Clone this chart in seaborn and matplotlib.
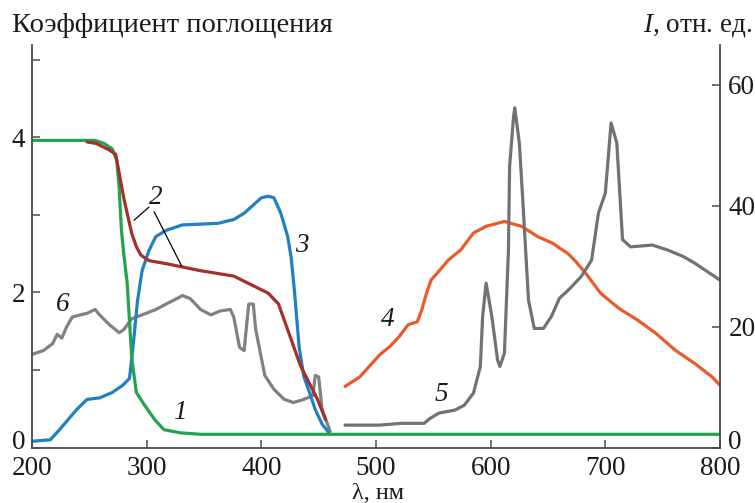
import matplotlib
matplotlib.use("Agg")
import matplotlib.pyplot as plt
import matplotlib.transforms as mtransforms
import seaborn as sns
import numpy as np

# ---- data (nm, absorption coefficient / relative intensity) ----
x1 = [200, 230, 255, 263, 270, 274, 276, 278, 280, 283, 287, 291, 298, 307, 315, 329, 347, 400, 500, 600, 700, 800]
y1 = [3.96, 3.96, 3.96, 3.92, 3.85, 3.7, 3.35, 2.8, 2.5, 2.12, 1.15, 0.71, 0.55, 0.36, 0.23, 0.19, 0.17, 0.17, 0.17, 0.17, 0.17, 0.17]

x2 = [248, 256, 267, 273, 276, 280, 283, 287, 291, 295, 302, 317, 347, 376, 406, 415, 434, 449, 456]
y2 = [3.94, 3.92, 3.84, 3.78, 3.54, 3.22, 3.02, 2.76, 2.59, 2.48, 2.41, 2.37, 2.28, 2.21, 1.99, 1.85, 1.06, 0.62, 0.36]

x3 = [200, 216, 224, 239, 248, 259, 270, 279, 285, 287, 289, 292, 296, 302, 308, 317, 331, 362, 376, 385,
      394, 400, 406, 411, 417, 423, 426, 429, 433, 437, 442, 447, 453, 459]
y3 = [0.08, 0.1, 0.23, 0.49, 0.62, 0.64, 0.71, 0.8, 0.89, 1.15, 1.43, 1.89, 2.28, 2.54, 2.72, 2.8, 2.87, 2.89, 2.94, 3.02,
      3.14, 3.22, 3.24, 3.22, 3.02, 2.72, 2.45, 2.0, 1.29, 0.92, 0.71, 0.49, 0.3, 0.19]

x6 = [200, 210, 218, 222, 226, 230, 235, 242, 248, 255, 259, 267, 276, 280, 287, 296, 308, 317, 329, 331,
      338, 347, 356, 364, 373, 376, 381, 385, 389, 393, 395, 403, 411, 420, 428, 437, 445, 447, 450, 453, 460]
y6 = [1.2, 1.25, 1.34, 1.46, 1.41, 1.55, 1.68, 1.71, 1.73, 1.78, 1.71, 1.59, 1.48, 1.52, 1.66, 1.71, 1.78, 1.85, 1.94, 1.96,
      1.92, 1.78, 1.71, 1.76, 1.78, 1.68, 1.29, 1.25, 1.85, 1.85, 1.53, 0.93, 0.75, 0.62, 0.58, 0.62, 0.67, 0.93, 0.91, 0.49, 0.21]

x4 = [473, 486, 503, 512, 520, 528, 536, 540, 544, 548, 555, 563, 574, 585, 596, 612, 627, 641, 654, 668,
      675, 683, 696, 712, 728, 744, 761, 778, 793, 800]
y4 = [10.1, 11.7, 15.3, 16.7, 18.3, 20.3, 20.8, 22.8, 25.5, 27.7, 29.2, 31.0, 32.7, 35.5, 36.6, 37.4, 36.6, 34.9, 33.8, 32.0,
      30.6, 28.8, 25.5, 23.0, 21.1, 18.9, 16.1, 13.9, 11.7, 10.3]

x5 = [473, 503, 522, 542, 547, 555, 569, 577, 585, 591, 593, 596, 601, 606, 608, 612, 615.5, 616.5, 620, 621,
      625, 628, 631, 633, 638, 646, 653, 660, 668, 679, 688, 694, 700, 705, 710, 715, 722, 741, 754, 768, 778, 800]
y5 = [3.7, 3.7, 4.0, 4.0, 4.8, 5.7, 6.2, 7.0, 9.0, 13.4, 21.7, 27.2, 21.7, 14.5, 13.4, 15.6, 32.7, 46.5, 54.8, 56.2,
      50.4, 41.0, 31.0, 24.4, 19.7, 19.7, 21.7, 24.7, 26.1, 28.3, 31.0, 38.8, 42.1, 53.7, 50.4, 34.4, 33.2, 33.5, 32.7, 31.6, 30.5, 27.7]

xticks = [200, 300, 400, 500, 600, 700, 800]
left_ticks = [0, 1, 2, 3, 4, 5]
left_labels = ["0", "", "2", "", "4", ""]
right_ticks = [0, 20, 40, 60]

# ---- style ----
sns.set_style("ticks")
plt.rcParams["font.family"] = ["Liberation Serif", "DejaVu Serif"]
plt.rcParams["mathtext.fontset"] = "custom"
plt.rcParams["mathtext.it"] = "Liberation Serif:italic"
plt.rcParams["mathtext.rm"] = "Liberation Serif"

FS = 19.5
spine_c = "#4a4a4a"
txt_c = "#1a1a1a"

fig = plt.figure(figsize=(7.55, 5.03), dpi=100)
ax = fig.add_axes([32 / 755, 55.5 / 503, (720 - 32) / 755, (447.5 - 45) / 503])
ax2 = ax.twinx()

lw = 2.3
c_green = "#26a24f"
c_red = "#a3302b"
c_blue = "#1f80c2"
c_orange = "#ea5a2a"
c_gray5 = "#6f7376"
c_gray6 = "#818181"

kw = dict(estimator=None, sort=False, legend=False)
sns.lineplot(x=x6, y=y6, ax=ax, color=c_gray6, lw=lw, **kw)
sns.lineplot(x=x3, y=y3, ax=ax, color=c_blue, lw=lw, **kw)
sns.lineplot(x=x1, y=y1, ax=ax, color=c_green, lw=lw, **kw)
sns.lineplot(x=x2, y=y2, ax=ax, color=c_red, lw=lw, **kw)
sns.lineplot(x=x4, y=y4, ax=ax2, color=c_orange, lw=lw, **kw)
sns.lineplot(x=x5, y=y5, ax=ax2, color=c_gray5, lw=lw, **kw)

ax.set_xlim(200, 800)
ax.set_ylim(0, 5.19)
ax2.set_ylim(0, 66.6)

ax.set_xticks(xticks)
ax.set_xticklabels([str(t) for t in xticks], fontsize=FS)
ax.set_yticks(left_ticks)
ax.set_yticklabels(left_labels, fontsize=FS)
ax2.set_yticks(right_ticks)
ax2.set_yticklabels([str(t) for t in right_ticks], fontsize=FS)
ax.set_xlabel("")
ax.set_ylabel("")
ax2.set_ylabel("")

for a in (ax, ax2):
    a.spines["top"].set_visible(False)
    for s in ("left", "right", "bottom"):
        a.spines[s].set_color(spine_c)
        a.spines[s].set_linewidth(1.3)
    a.tick_params(direction="in", length=6, width=1.1, color=spine_c, labelcolor=txt_c)
ax.spines["right"].set_visible(False)
ax2.spines["left"].set_visible(False)
ax2.spines["bottom"].set_visible(False)
ax.tick_params(axis="x", pad=6)
ax.tick_params(axis="y", pad=5)
ax2.tick_params(axis="y", pad=6)

# nudge the two "0" labels up a little, as in the reference
up = mtransforms.ScaledTranslation(0, 5.5 / 72, fig.dpi_scale_trans)
for lbl in (ax.get_yticklabels()[0], ax2.get_yticklabels()[0]):
    lbl.set_transform(lbl.get_transform() + up)

# curve numbers
lab = dict(fontsize=FS, style="italic", color=txt_c, ha="center", va="center")
ax.text(329, 0.45, "1", **lab)
ax.text(308, 3.22, "2", **lab)
ax.text(435, 2.6, "3", **lab)
ax2.text(510, 21.1, "4", **lab)
ax2.text(557, 8.7, "5", **lab)
ax.text(227, 1.85, "6", **lab)
ax.plot([302, 289], [3.10, 2.93], color="black", lw=0.9)
ax.plot([306.5, 330.5], [3.04, 2.34], color="black", lw=0.9)

# axis titles
fig.text(12 / 755, 1 - 31.7 / 503, "Коэффициент поглощения", fontsize=20.5, ha="left", va="baseline", color=txt_c)
fig.text(752 / 755, 1 - 31.7 / 503, r"$\mathit{I}$, отн. ед.", fontsize=FS, ha="right", va="baseline", color=txt_c)
fig.text(378 / 755, 1 - 499 / 503, "λ, нм", fontsize=17.5, ha="center", va="baseline", color=txt_c)

fig.savefig("out.png", dpi=100)
